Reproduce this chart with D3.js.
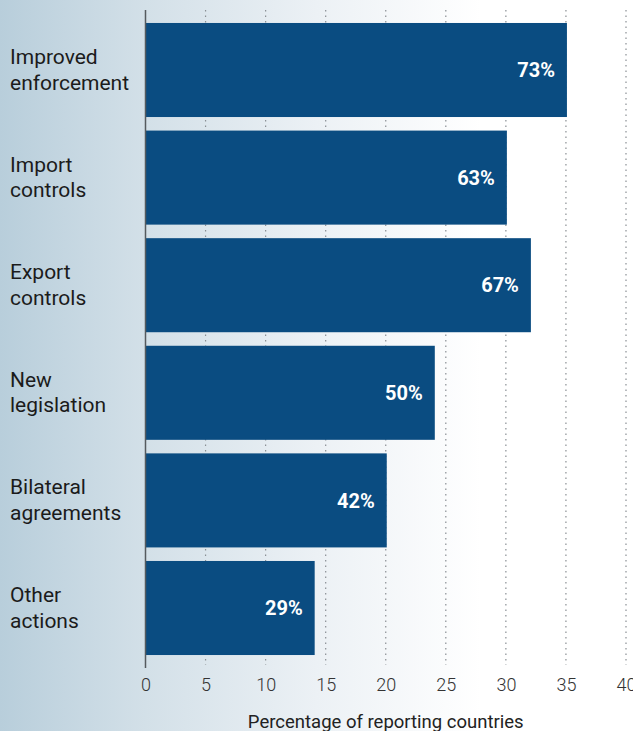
<!DOCTYPE html>
<html>
<head>
<meta charset="utf-8">
<script src="https://cdn.jsdelivr.net/npm/d3@7"></script>
<style>
  html, body { margin: 0; padding: 0; background: #fff; }
  svg { display: block; }
</style>
</head>
<body>
<div id="chart"></div>
<script>
// Actions reported, as number of countries out of the reporting total
const categories = [
  "Improved enforcement",
  "Import controls",
  "Export controls",
  "New legislation",
  "Bilateral agreements",
  "Other actions"
];
const categoryLines = [
  ["Improved", "enforcement"],
  ["Import", "controls"],
  ["Export", "controls"],
  ["New", "legislation"],
  ["Bilateral", "agreements"],
  ["Other", "actions"]
];
const countryCounts = [35, 30, 32, 24, 20, 14];
const totalCountries = 48;
const xTicks = [0, 5, 10, 15, 20, 25, 30, 35, 40];
const xTitle = "Percentage of reporting countries";

const W = 633, H = 731;

const svg = d3.select("#chart").append("svg")
  .attr("width", W).attr("height", H);

// Soft blue-grey wash fading to white towards the right
const defs = svg.append("defs");
const grad = defs.append("linearGradient")
  .attr("id", "bgWash")
  .attr("x1", 0).attr("x2", 1).attr("y1", 0).attr("y2", 0);
[[0, "#b8cedb"], [0.23, "#d3e0e8"], [0.5, "#ecf1f5"], [0.76, "#ffffff"], [1, "#ffffff"]]
  .forEach(([o, c]) => grad.append("stop").attr("offset", o).attr("stop-color", c));
svg.append("rect").attr("width", W).attr("height", H).attr("fill", "url(#bgWash)");

const x = d3.scaleLinear().domain([0, 40]).range([145.5, 626]);
const y = d3.scaleBand()
  .domain(categories)
  .range([16.2, 661.8])
  .paddingInner(0.126)
  .paddingOuter(0.063);

const gridTop = 10, gridBottom = 665;

// Dotted vertical gridlines
svg.append("g")
  .selectAll("line")
  .data(xTicks.filter(t => t > 0))
  .join("line")
  .attr("x1", d => x(d)).attr("x2", d => x(d))
  .attr("y1", gridTop).attr("y2", gridBottom)
  .attr("stroke", "#8a8f94")
  .attr("stroke-width", 1.2)
  .attr("stroke-dasharray", "1.5,4");

// Bars
svg.append("g")
  .selectAll("rect")
  .data(categories)
  .join("rect")
  .attr("x", x(0))
  .attr("y", d => y(d))
  .attr("width", (d, i) => x(countryCounts[i]) - x(0) + 1)
  .attr("height", y.bandwidth())
  .attr("fill", "#0a4c81");

// Value labels inside bar ends
svg.append("g")
  .selectAll("text")
  .data(categories)
  .join("text")
  .attr("x", (d, i) => x(countryCounts[i]) - 11)
  .attr("y", d => y(d) + y.bandwidth() / 2)
  .attr("dy", "0.36em")
  .attr("text-anchor", "end")
  .attr("fill", "#ffffff")
  .style("font-family", "Roboto, sans-serif")
  .style("font-weight", 700)
  .style("font-size", "20px")
  .text((d, i) => Math.round(countryCounts[i] / totalCountries * 100) + "%");

// Category labels, two lines each
const catG = svg.append("g");
categories.forEach((c, i) => {
  const cy = y(c) + y.bandwidth() / 2;
  const t = catG.append("text")
    .attr("x", 10)
    .attr("y", cy - 6)
    .attr("fill", "#1b1b1b")
    .style("font-family", "Roboto, sans-serif")
    .style("font-size", "21px");
  categoryLines[i].forEach((line, j) => {
    t.append("tspan").attr("x", 10).attr("dy", j === 0 ? 0 : 25.5).text(line);
  });
});

// Axis line at zero
svg.append("line")
  .attr("x1", x(0)).attr("x2", x(0))
  .attr("y1", gridTop).attr("y2", 668)
  .attr("stroke", "#555a5e")
  .attr("stroke-width", 1.5);

// X axis tick labels
const xAxis = d3.axisBottom(x).tickValues(xTicks).tickSize(0).tickPadding(0);
const axisG = svg.append("g")
  .attr("transform", "translate(0,678)")
  .call(xAxis);
axisG.select(".domain").remove();
axisG.selectAll("text")
  .attr("dy", "0.72em")
  .attr("fill", "#333")
  .style("font-family", "Roboto, sans-serif")
  .style("font-weight", 300)
  .style("font-size", "18px");

// Axis title
svg.append("text")
  .attr("x", (x(0) + x(40)) / 2)
  .attr("y", 728)
  .attr("text-anchor", "middle")
  .attr("fill", "#222")
  .style("font-family", "Roboto, sans-serif")
  .style("font-size", "18.5px")
  .text(xTitle);
</script>
</body>
</html>
